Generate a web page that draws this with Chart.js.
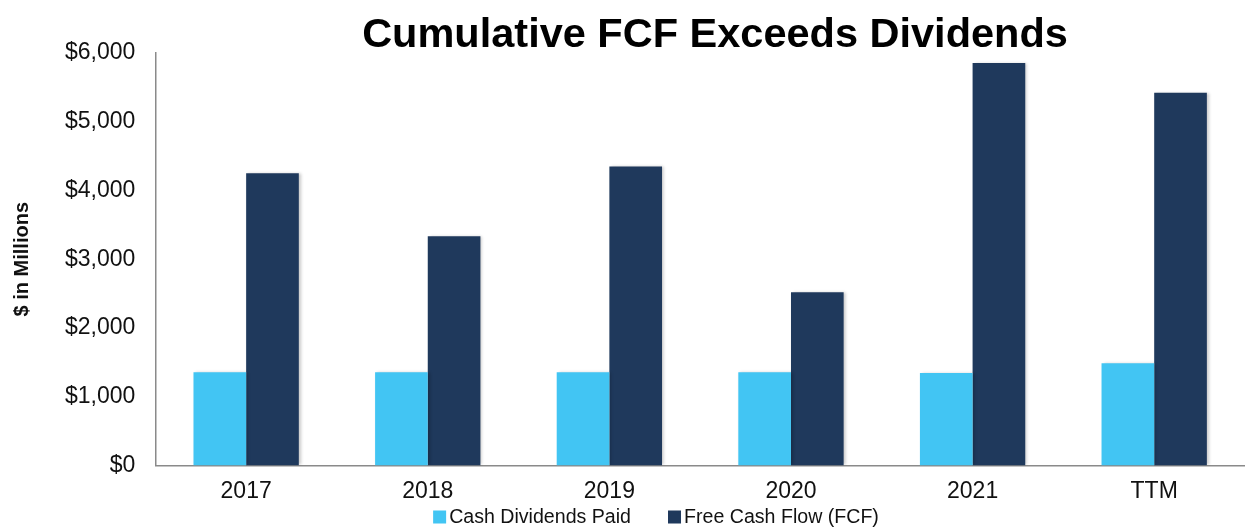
<!DOCTYPE html>
<html>
<head>
<meta charset="utf-8">
<script src="https://cdn.jsdelivr.net/npm/chart.js@4"></script>
<style>
  html, body { margin: 0; padding: 0; background: #fff; }
  #wrap { width: 1245px; height: 529px; }
</style>
</head>
<body>
<div id="wrap"><canvas id="fcfChart" width="1245" height="529"></canvas></div>
<script>
// values ($ millions)
const categories = ['2017', '2018', '2019', '2020', '2021', 'TTM'];
const dividendsPaid = [1355, 1355, 1355, 1355, 1345, 1485];
const freeCashFlow = [4250, 3335, 4350, 2520, 5855, 5420];
const yTicks = [0, 1000, 2000, 3000, 4000, 5000, 6000];

const chartTitle = 'Cumulative FCF Exceeds Dividends';
const FONT = "'Liberation Sans', Arial, sans-serif";

// soft drop shadow on the bars, like the original export
const barShadow = {
    id: 'barShadow',
    beforeDatasetsDraw(chart) {
        const ctx = chart.ctx;
        ctx.save();
        ctx.shadowColor = 'rgba(0,0,0,0.22)';
        ctx.shadowBlur = 3;
        ctx.shadowOffsetX = 2;
        ctx.shadowOffsetY = 0;
    },
    afterDatasetsDraw(chart) {
        chart.ctx.restore();
    }
};

// title sits a little right of centre in the original, so draw it directly
const topTitle = {
    id: 'topTitle',
    afterDraw(chart) {
        const ctx = chart.ctx;
        ctx.save();
        ctx.font = 'bold 41.5px ' + FONT;
        ctx.fillStyle = '#000';
        ctx.textAlign = 'center';
        ctx.textBaseline = 'alphabetic';
        ctx.fillText(chartTitle, 715, 47);
        ctx.restore();
    }
};

// legend drawn by hand so the swatch sits tight against its text
const bottomLegend = {
    id: 'bottomLegend',
    afterDraw(chart) {
        const ctx = chart.ctx;
        const box = 13, gapText = 3, gapItem = 37;
        const centerX = 656, centerY = 517;
        ctx.save();
        ctx.font = '19.6px ' + FONT;
        ctx.textBaseline = 'middle';
        const items = chart.data.datasets.map(ds => ({
            text: ds.label,
            color: ds.backgroundColor,
            w: ctx.measureText(ds.label).width
        }));
        const total = items.reduce((s, it) => s + box + gapText + it.w, 0) + gapItem * (items.length - 1);
        let x = centerX - total / 2;
        items.forEach(it => {
            ctx.fillStyle = it.color;
            ctx.fillRect(x, centerY - box / 2, box, box);
            ctx.fillStyle = '#111';
            ctx.fillText(it.text, x + box + gapText, centerY + 1);
            x += box + gapText + it.w + gapItem;
        });
        ctx.restore();
    }
};

const ctx = document.getElementById('fcfChart').getContext('2d');
new Chart(ctx, {
    type: 'bar',
    data: {
        labels: categories,
        datasets: [
            {
                label: 'Cash Dividends Paid',
                data: dividendsPaid,
                backgroundColor: '#42C5F3',
                borderWidth: 0
            },
            {
                label: 'Free Cash Flow (FCF)',
                data: freeCashFlow,
                backgroundColor: '#1F395C',
                borderWidth: 0
            }
        ]
    },
    options: {
        responsive: false,
        animation: false,
        layout: { padding: { left: 10, right: 0, top: 53, bottom: 12 } },
        datasets: {
            bar: { categoryPercentage: 0.58, barPercentage: 1.0 }
        },
        scales: {
            x: {
                grid: { display: false, drawTicks: false },
                border: { display: true, color: '#8a8a8a', width: 1.5 },
                ticks: {
                    color: '#111',
                    padding: 12,
                    font: { family: FONT, size: 23 }
                }
            },
            y: {
                min: 0,
                max: 6000,
                afterBuildTicks(axis) {
                    axis.ticks = yTicks.map(v => ({ value: v }));
                },
                grid: { display: false, drawTicks: false },
                border: { display: true, color: '#8a8a8a', width: 1.5 },
                ticks: {
                    color: '#111',
                    padding: 20,
                    font: { family: FONT, size: 23 },
                    callback: v => '$' + v.toLocaleString('en-US')
                },
                title: {
                    display: true,
                    text: '$ in Millions',
                    color: '#111',
                    font: { family: FONT, size: 20, weight: 'bold' },
                    padding: { top: 0, bottom: 11 }
                }
            }
        },
        plugins: {
            title: { display: false },
            legend: { display: false },
            tooltip: { enabled: false }
        }
    },
    plugins: [barShadow, topTitle, bottomLegend]
});
</script>
</body>
</html>
